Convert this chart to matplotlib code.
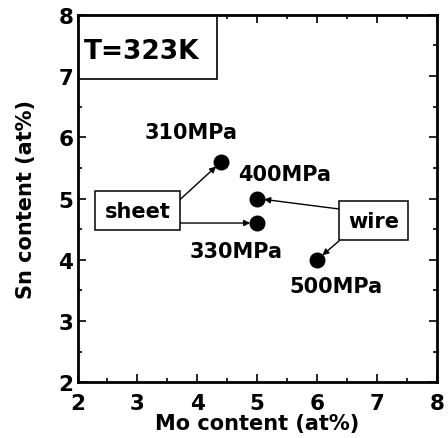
import matplotlib
matplotlib.use("Agg")
import matplotlib.pyplot as plt
from matplotlib.patches import Rectangle

plt.rcParams['font.family'] = ['DejaVu Sans']
plt.rcParams['font.weight'] = 'bold'

# data
mo = [4.4, 5.0, 5.0, 6.0]
sn = [5.6, 5.0, 4.6, 4.0]
labels = ["310MPa", "400MPa", "330MPa", "500MPa"]
label_pos = [(3.89, 6.09), (5.46, 5.40), (4.64, 4.14), (6.31, 3.57)]

fig = plt.figure(figsize=(4.48, 4.39), dpi=100)
ax = fig.add_axes([0.173, 0.127, 0.802, 0.837])

ax.plot(mo, sn, 'o', color='black', markersize=10.5, zorder=5)

for lab, (lx, ly) in zip(labels, label_pos):
    ax.text(lx, ly, lab, ha='center', va='center', fontsize=15, fontweight='bold')

box = dict(boxstyle='square,pad=0.45', fc='white', ec='black', lw=1.1)
ax.text(3.0, 4.80, "sheet", ha='center', va='center', fontsize=15, fontweight='bold', bbox=box)
ax.text(6.945, 4.64, "wire", ha='center', va='center', fontsize=15, fontweight='bold', bbox=box)

# temperature box in the top-left corner
ax.add_patch(Rectangle((0, 0.826), 0.387, 0.174, transform=ax.transAxes,
                       fc='white', ec='black', lw=1.2, zorder=4))
ax.text(0.179, 0.902, "T=323K", transform=ax.transAxes, ha='center', va='center',
        fontsize=19, fontweight='bold', zorder=6)

arr = dict(arrowstyle='-|>', color='black', lw=1.0, mutation_scale=9, shrinkA=0, shrinkB=5)
ax.annotate("", xy=(mo[0], sn[0]), xytext=(3.72, 4.99), arrowprops=arr)
ax.annotate("", xy=(mo[2], sn[2]), xytext=(3.72, 4.6), arrowprops=arr)
ax.annotate("", xy=(mo[1], sn[1]), xytext=(6.36, 4.83), arrowprops=arr)
ax.annotate("", xy=(mo[3], sn[3]), xytext=(6.37, 4.31), arrowprops=arr)

ax.set_xlim(2, 8)
ax.set_ylim(2, 8)
ax.set_xticks(range(2, 9))
ax.set_yticks(range(2, 9))
ax.set_xticks([x + 0.5 for x in range(2, 8)], minor=True)
ax.set_yticks([y + 0.5 for y in range(2, 8)], minor=True)
ax.tick_params(which='both', direction='in', top=True, right=True, width=1.2)
ax.tick_params(which='major', length=6, labelsize=15.5)
ax.tick_params(axis='x', which='major', pad=8)
ax.tick_params(axis='y', which='major', pad=3)
ax.tick_params(which='minor', length=3)
for t in ax.get_xticklabels() + ax.get_yticklabels():
    t.set_fontweight('bold')
for s in ax.spines.values():
    s.set_linewidth(2)
    s.set_zorder(7)

ax.set_xlabel("Mo content (at%)", fontsize=15, fontweight='bold', labelpad=0)
ax.set_ylabel("Sn content (at%)", fontsize=15, fontweight='bold', labelpad=16)

fig.savefig("out.png", dpi=100)
